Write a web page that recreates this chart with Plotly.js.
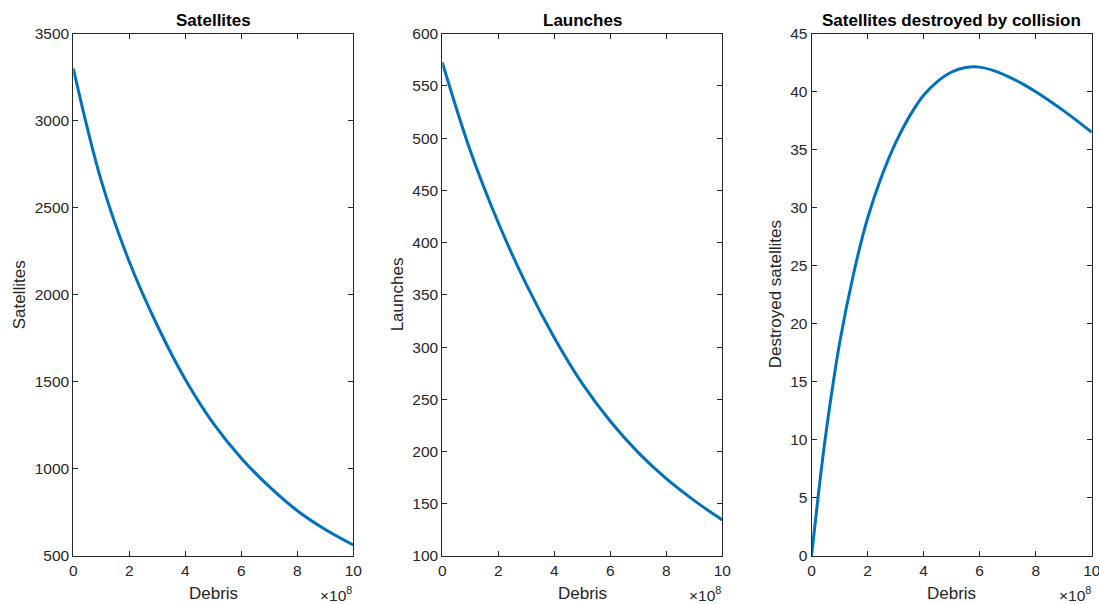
<!DOCTYPE html>
<html>
<head>
<meta charset="utf-8">
<script src="https://cdn.plot.ly/plotly-3.0.1.min.js"></script>
<style>
html, body { margin: 0; padding: 0; background: #ffffff; }
#chart { width: 1099px; height: 604px; }
</style>
</head>
<body>
<div id="chart"></div>
<script>
// ---- data (debris in units of 1e8) ----
const debrisTickVals = [0, 2, 4, 6, 8, 10];
const debrisTickText = ['0', '2', '4', '6', '8', '10'];

const satDebris  = [0, 1, 2, 3, 4, 5, 6, 7, 8, 9, 10];
const satellites = [3300, 2655, 2190, 1824, 1514, 1262, 1062, 898, 760, 652, 563];

const launchDebris = [0, 1, 2, 3, 4, 5, 6, 7, 8, 9, 10];
const launches     = [572.5, 488, 419, 360, 309, 265, 229, 199, 174, 153, 134.5];

const destroyedDebris = [0, 0.25, 0.5, 1, 1.5, 2, 2.5, 3, 3.5, 4, 4.5, 5, 5.5, 6, 6.5, 7, 7.5, 8, 8.5, 9, 9.5, 10];
const destroyed       = [0, 5.4, 10.3, 18.3, 24.3, 29.1, 32.7, 35.6, 37.9, 39.7, 40.9, 41.7, 42.08, 42.12, 41.82, 41.33, 40.72, 40.0, 39.2, 38.35, 37.45, 36.5];

const panelTitles = ['Satellites', 'Launches', 'Satellites destroyed by collision'];
const yLabels = ['Satellites', 'Launches', 'Destroyed satellites'];
const xLabel = 'Debris';
const xExponent = '×10<sup>8</sup>';

// ---- layout helpers ----
const W = 1099, H = 604;
const FONT = 'Liberation Sans, Arial, Helvetica, sans-serif';
const ink = '#262626';
const lineColor = '#0072BD';
const px = p => p / W;
const py = p => 1 - p / H;

const panelsX = [[73.3, 353.3], [442.3, 722.3], [811.5, 1091.8]];
const panelY = [33.7, 556];

function axisStyle(extra) {
  return Object.assign({
    showline: true, linecolor: ink, linewidth: 1, mirror: 'ticks',
    ticks: 'inside', ticklen: 5, tickwidth: 1, tickcolor: ink,
    showgrid: false, zeroline: false, fixedrange: true,
    ticklabeloverflow: 'allow',
    tickfont: { family: FONT, size: 15.5, color: ink }
  }, extra);
}

const series = [
  { x: satDebris, y: satellites, range: [500, 3500], dtick: 500 },
  { x: launchDebris, y: launches, range: [100, 600], dtick: 50 },
  { x: destroyedDebris, y: destroyed, range: [0, 45], dtick: 5 }
];

const data = [];
const layout = {
  width: W, height: H,
  margin: { l: 0, r: 0, t: 0, b: 0 },
  paper_bgcolor: '#ffffff', plot_bgcolor: '#ffffff',
  showlegend: false,
  font: { family: FONT, color: ink },
  annotations: []
};

series.forEach((s, i) => {
  const n = i === 0 ? '' : String(i + 1);
  data.push({
    type: 'scatter', mode: 'lines',
    x: s.x, y: s.y,
    xaxis: 'x' + n, yaxis: 'y' + n,
    line: { color: lineColor, width: 3, shape: 'spline', smoothing: 1 },
    hoverinfo: 'skip'
  });
  layout['xaxis' + n] = axisStyle({
    domain: [px(panelsX[i][0]), px(panelsX[i][1])],
    anchor: 'y' + n,
    range: [0, 10],
    tickmode: 'array', tickvals: debrisTickVals, ticktext: debrisTickText
  });
  layout['yaxis' + n] = axisStyle({
    domain: [py(panelY[1]), py(panelY[0])],
    anchor: 'x' + n,
    range: s.range, dtick: s.dtick, tick0: 0
  });
  const cx = (panelsX[i][0] + panelsX[i][1]) / 2;
  layout.annotations.push({
    xref: 'paper', yref: 'paper', x: px(cx), y: py(20.5),
    xanchor: 'center', yanchor: 'middle', showarrow: false,
    text: '<b>' + panelTitles[i] + '</b>',
    font: { family: FONT, size: 17, color: '#000000' }
  });
  layout.annotations.push({
    xref: 'paper', yref: 'paper', x: px(cx), y: py(593),
    xanchor: 'center', yanchor: 'middle', showarrow: false,
    text: xLabel, font: { family: FONT, size: 17, color: ink }
  });
  layout.annotations.push({
    xref: 'paper', yref: 'paper', x: px(panelsX[i][1] + 1), y: py(594),
    xanchor: 'right', yanchor: 'middle', showarrow: false,
    text: xExponent, font: { family: FONT, size: 15.5, color: ink }
  });
  const ylx = [19.5, 397.5, 775.5][i];
  layout.annotations.push({
    xref: 'paper', yref: 'paper', x: px(ylx), y: py((panelY[0] + panelY[1]) / 2),
    xanchor: 'center', yanchor: 'middle', showarrow: false, textangle: -90,
    text: yLabels[i], font: { family: FONT, size: 17, color: ink }
  });
});

Plotly.newPlot('chart', data, layout, { displayModeBar: false, staticPlot: true });
</script>
</body>
</html>
